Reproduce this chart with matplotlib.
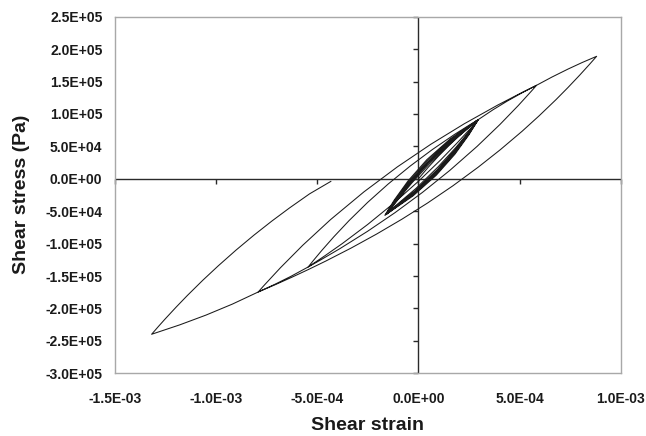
import numpy as np
import matplotlib
matplotlib.use("Agg")
import matplotlib.pyplot as plt
from matplotlib.markers import TICKLEFT, TICKDOWN

plt.rcParams['font.family'] = ['Liberation Sans', 'DejaVu Sans']

# ---- data: strain in units of 1e-4, stress in kPa ----
backbone_0C_strain = [0, 0.5, 1.0, 1.5, 2.0, 2.5, 2.96]
backbone_0C_stress = [0, 18.3, 35.2, 51.0, 65.7, 79.4, 91.3]

loop1_strain = [2.519, 1.858, 0.976, -0.127, -1.45, -1.009, -0.348, 0.535, 1.637, 2.96]
loop1_stress = [73.5, 48.6, 18.5, -15.0, -50.0, -32.2, -7.3, 22.8, 56.3, 91.3]
loop2_strain = [2.512, 1.84, 0.944, -0.176, -1.52, -1.072, -0.40, 0.496, 1.616, 2.96]
loop2_stress = [71.9, 45.5, 14.5, -18.8, -52.5, -33.1, -6.7, 24.3, 57.6, 91.3]
loop3_strain = [2.506, 1.825, 0.917, -0.218, -1.58, -1.126, -0.445, 0.463, 1.598, 2.96]
loop3_stress = [70.5, 42.7, 11.0, -22.1, -54.5, -33.7, -5.9, 25.8, 58.9, 91.3]
loop4_strain = [2.502, 1.815, 0.899, -0.246, -1.62, -1.162, -0.475, 0.441, 1.586, 2.96]
loop4_stress = [69.2, 40.2, 8.1, -24.5, -55.5, -33.4, -4.4, 27.7, 60.3, 91.3]
loop5_strain = [2.498, 1.805, 0.881, -0.274, -1.66, -1.198, -0.505, 0.419, 1.574, 2.96]
loop5_stress = [67.9, 37.9, 5.4, -26.6, -56.3, -32.9, -2.9, 29.6, 61.6, 91.3]
loop6_strain = [2.504, 1.82, 0.908, -0.232, -1.60, -1.144, -0.46, 0.452, 1.592, 2.96]
loop6_stress = [71.0, 43.6, 11.9, -21.6, -55.0, -34.7, -7.3, 24.4, 57.9, 91.3]

C_to_F_strain = [2.540, 1.951, 1.110, 0.017, -1.245, -2.507, -3.768, -4.609, -5.45]
C_to_F_stress = [76.5, 56.5, 29.4, -3.4, -38.3, -70.4, -100.0, -118.4, -136.0]
F_to_C_strain = [-5.198, -4.777, -4.189, -3.432, -2.507, -1.497, -0.404, 0.689, 1.783, 2.540, 2.96]
F_to_C_stress = [-126.2, -110.5, -89.7, -64.6, -36.3, -8.1, 19.7, 45.1, 68.4, 83.3, 91.3]
C_to_B_strain = [3.7, 4.4, 5.1, 5.84]
C_to_B_stress = [106.7, 120.0, 132.2, 144.2]
B_to_F_strain = [5.614, 4.937, 4.034, 2.905, 1.550, 0.195, -1.160, -2.515, -3.869, -4.886, -5.45]
B_to_F_stress = [136.2, 113.0, 83.9, 50.1, 12.9, -21.1, -52.3, -81.0, -107.5, -126.1, -136.0]
F_to_E_strain = [-6.3, -7.1, -7.92]
F_to_E_stress = [-150.4, -162.8, -174.6]
E_to_B_strain = [-7.645, -6.819, -5.718, -4.342, -2.691, -1.04, 0.611, 2.262, 3.914, 5.152, 5.84]
E_to_B_stress = [-164.9, -137.1, -102.5, -62.9, -20.1, 18.4, 53.2, 84.8, 113.6, 133.6, 144.2]
B_to_A_strain = [6.6, 7.4, 8.1, 8.81]
B_to_A_stress = [156.9, 169.3, 179.4, 188.9]
A_to_E_strain = [8.475, 7.974, 7.388, 6.802, 5.966, 5.129, 4.042, 2.955, 1.700, 0.445,
                 -0.810, -2.065, -3.319, -4.574, -5.411, -6.247, -7.084, -7.92]
A_to_E_stress = [177.1, 159.9, 140.6, 122.1, 97.1, 73.4, 44.7, 17.9, -10.9, -37.5,
                 -62.2, -85.2, -106.7, -126.8, -139.5, -151.7, -163.4, -174.6]
E_to_D_strain = [-9.2, -10.5, -11.8, -13.19]
E_to_D_stress = [-193.3, -210.2, -225.3, -239.8]
D_to_end_strain = [-12.86, -12.53, -11.98, -11.43, -10.66, -9.89, -9.01, -8.13, -7.25, -6.37, -5.38, -4.33]
D_to_end_stress = [-228.0, -216.5, -198.0, -180.2, -156.5, -134.1, -109.8, -86.9, -65.3, -44.9, -23.2, -4.0]

x_ticks = [-1.5e-3, -1.0e-3, -5.0e-4, 0.0, 5.0e-4, 1.0e-3]
x_labels = ["-1.5E-03", "-1.0E-03", "-5.0E-04", "0.0E+00", "5.0E-04", "1.0E-03"]
y_ticks = [2.5e5, 2.0e5, 1.5e5, 1.0e5, 5.0e4, 0.0, -5.0e4, -1.0e5, -1.5e5, -2.0e5, -2.5e5, -3.0e5]
y_labels = ["2.5E+05", "2.0E+05", "1.5E+05", "1.0E+05", "5.0E+04", "0.0E+00", "-5.0E+04",
            "-1.0E+05", "-1.5E+05", "-2.0E+05", "-2.5E+05", "-3.0E+05"]

path_strain = [backbone_0C_strain, loop1_strain, loop2_strain, loop3_strain, loop4_strain,
               loop5_strain, loop6_strain, C_to_F_strain, F_to_C_strain, C_to_B_strain,
               B_to_F_strain, F_to_E_strain, E_to_B_strain, B_to_A_strain, A_to_E_strain,
               E_to_D_strain, D_to_end_strain]
path_stress = [backbone_0C_stress, loop1_stress, loop2_stress, loop3_stress, loop4_stress,
               loop5_stress, loop6_stress, C_to_F_stress, F_to_C_stress, C_to_B_stress,
               B_to_F_stress, F_to_E_stress, E_to_B_stress, B_to_A_stress, A_to_E_stress,
               E_to_D_stress, D_to_end_stress]
strain = np.concatenate([np.asarray(s, float) for s in path_strain]) * 1e-4
stress = np.concatenate([np.asarray(s, float) for s in path_stress]) * 1e3

W, H = 646, 436
fig = plt.figure(figsize=(W / 100, H / 100), dpi=100)
L, R, T, B = 115, 620.7, 16.7, 373.3
ax = fig.add_axes([L / W, 1 - B / H, (R - L) / W, (B - T) / H])
ax.set_xlim(-1.5e-3, 1.0e-3)
ax.set_ylim(-3.0e5, 2.5e5)

for sp in ax.spines.values():
    sp.set_color('#a8a8a8')
    sp.set_linewidth(1.0)

axis_col = '#2a2a2a'
ax.axhline(0, color=axis_col, lw=1.0, zorder=2)
ax.axvline(0, color=axis_col, lw=1.0, zorder=2)
ax.plot(np.zeros(len(y_ticks)), y_ticks, ls='none', marker=TICKLEFT, ms=3.8,
        mew=1.0, color=axis_col, clip_on=False, zorder=2)
ax.plot(x_ticks, np.zeros(len(x_ticks)), ls='none', marker=TICKDOWN, ms=3.8,
        mew=1.0, color=axis_col, clip_on=False, zorder=2)

ax.plot(strain, stress, color='#1a1a1a', lw=0.75, zorder=3, solid_joinstyle='round')

ax.set_xticks(x_ticks)
ax.set_xticklabels(x_labels, fontsize=10, fontweight='bold')
ax.set_yticks(y_ticks)
ax.set_yticklabels(y_labels, fontsize=10, fontweight='bold')
ax.tick_params(axis='both', length=0, colors='#1a1a1a')
ax.tick_params(axis='x', pad=13.5)
ax.tick_params(axis='y', pad=9)

fig.text((L + R) / 2 / W, 1 - 430 / H, "Shear strain", ha='center', va='baseline',
         fontsize=14, fontweight='bold', color='#1a1a1a')
fig.text(21.5 / W, 1 - 194 / H, "Shear stress (Pa)", ha='center', va='center',
         rotation=90, fontsize=14, fontweight='bold', color='#1a1a1a')

fig.savefig("out.png", dpi=100)
